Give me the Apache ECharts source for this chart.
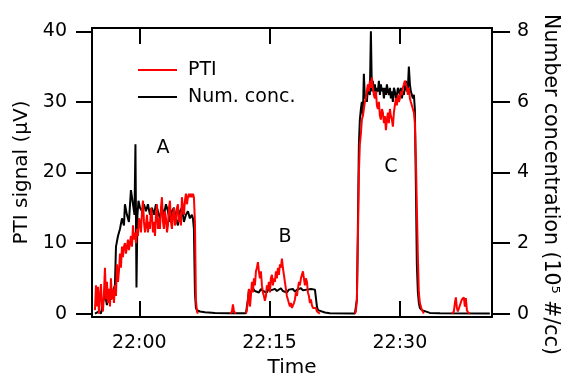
<!DOCTYPE html>
<html><head><meta charset="utf-8">
<script src="https://cdn.jsdelivr.net/npm/echarts@6/dist/echarts.min.js"></script>
<style>html,body{margin:0;padding:0;background:#fff}#c{width:569px;height:374px}</style>
</head><body><div id="c"></div>
<script>
// Time axis: minutes after 22:00
const xTickValues = [0, 15, 30];
const xTickLabels = ['22:00', '22:15', '22:30'];
const ptiTickValues = [0, 10, 20, 30, 40];
const ncTickValues = [0, 2, 4, 6, 8];

// PTI signal (µV); null = no data drawn
const ptiTime = [
-5.10,-4.98,-4.87,-4.75,-4.64,-4.52,-4.41,-4.29,-4.18,-4.06,-3.95,-3.83,-3.72,-3.60,-3.49,-3.37,-3.26,-3.14,-3.03,-2.91,
-2.80,-2.68,-2.57,-2.45,-2.34,-2.22,-2.11,-1.99,-1.88,-1.76,-1.65,-1.53,-1.42,-1.30,-1.19,-1.07,-0.96,-0.84,-0.72,-0.61,
-0.49,-0.38,-0.26,-0.15,-0.03,0.08,0.20,0.31,0.43,0.54,0.66,0.77,0.89,1.00,1.12,1.23,1.35,1.46,1.58,1.69,
1.81,1.92,2.04,2.15,2.27,2.38,2.50,2.61,2.73,2.84,2.96,3.07,3.19,3.30,3.42,3.53,3.65,3.76,3.88,3.99,
4.11,4.22,4.34,4.45,4.57,4.68,4.80,4.91,5.03,5.14,5.26,5.37,5.49,5.60,5.72,5.83,5.95,6.06,6.18,6.29,
6.41,6.52,6.64,6.75,
7.00,
10.44,10.67,10.78,10.90,11.13,
11.50,
12.28,12.39,12.51,12.62,12.74,12.85,12.97,13.08,13.20,13.31,13.43,13.54,13.66,13.77,13.89,14.00,14.12,14.23,14.35,14.46,
14.58,14.69,14.81,14.92,15.04,15.15,15.27,15.38,15.50,15.61,15.73,15.84,15.96,16.07,16.19,16.30,16.42,16.53,16.65,16.76,
16.88,16.99,17.11,17.22,17.34,17.45,17.57,17.68,17.80,17.92,18.03,18.15,18.26,18.38,18.49,18.61,18.72,18.84,18.95,19.07,
19.18,19.30,19.41,19.53,19.64,19.76,19.87,19.99,20.10,20.22,20.33,20.45,20.56,20.79,
21.50,
24.82,24.93,25.05,25.16,25.28,25.39,25.51,25.62,25.74,25.85,25.97,26.08,26.20,26.31,26.43,26.54,26.66,26.77,26.89,27.00,
27.12,27.24,27.35,27.47,27.58,27.70,27.81,27.93,28.04,28.16,28.27,28.39,28.50,28.62,28.73,28.85,28.96,29.08,29.19,29.31,
29.42,29.54,29.65,29.77,29.88,30.00,30.11,30.23,30.34,30.46,30.57,30.69,30.80,30.92,31.03,31.15,31.26,31.38,31.49,31.61,
31.72,31.84,31.95,32.07,32.18,32.30,32.53,32.76,
34.00,
35.98,36.21,36.33,36.44,36.56,36.67,36.90,37.13,37.36,37.48,37.59,37.71,37.82,38.05
];
const ptiValue = [
0.5,4,1,3.8,0,2.5,4.2,1,0.3,3,6.5,2,4.5,1.5,3.5,1,5,2,3.5,1.5,
4,2.5,7,4.5,6,8.5,6.5,9.5,8,9.5,10,8.5,9.5,10.5,9,10,11,9.5,12.5,10.5,
11.5,10,12,11,13.5,13,11.5,14.5,16,13,11.5,12.5,14,11.5,13,12,15,14,11.5,13,
11,14,15.5,12,13.5,12,15,16.5,13,12,14.5,13.5,11.5,12.5,15,16,13,12,14,15,
12.5,13,15,15.5,13,14,12.5,16.5,15,14,16,17,15.5,16.5,17,16.5,17,16.5,17,16.5,
13,2,0.3,0,
null,
0,0.3,1.3,0.3,0,
null,
0,0.5,2,3.5,1,2.5,4.5,3,5,4,6,6.5,7.3,6,5,6,4,3,2.5,1.8,
2.5,4,3.5,4.5,3,5,5.5,4,5,4.5,6,5,6.5,5.5,7,6.5,7.8,6.5,5.5,4.5,
3.5,2.5,2,1.5,1,1.5,0.8,0.7,1.5,2,3,2.5,3.5,4.5,4,5,5.5,6,5,4,
5,4.5,3,2.5,1.5,2,1.2,0.8,1,0.6,0.8,0.3,0.2,0,
null,
0,0.3,2,10,20,24,25.5,27.5,28,29,30,30.5,31.5,32.5,31.5,33,32,33.5,32,31,
30.5,31.5,29.5,29,30,28,27.5,29,28.5,27,28,26,27.5,28.5,27,29,28,27.5,26.5,28.5,
29.5,30.5,29.5,31,30,30.5,31.5,31,32,32.5,33,32.5,32,31,32,30.5,30,29.5,29,28.5,
27,22,15,8,3,1.5,0.5,0,
null,
0,0.3,1.5,2.3,0.8,0.3,0.5,2,2.3,1,2.2,0.5,0.2,0
];

// Number concentration (10^5 #/cc)
const ncTime = [
-5.10,-4.87,-4.64,-4.41,-4.18,-3.95,-3.72,-3.49,-3.26,-3.03,-2.80,-2.68,-2.45,-2.22,-1.99,-1.76,-1.65,-1.42,-1.19,-0.96,
-0.72,-0.55,-0.44,-0.32,-0.21,-0.09,0.08,0.31,0.54,0.77,1.00,1.23,1.46,1.69,1.92,2.15,2.38,2.61,2.84,3.07,
3.30,3.53,3.76,3.99,4.22,4.45,4.68,4.91,5.14,5.37,5.60,5.83,6.06,6.18,6.29,6.41,6.52,6.64,6.98,7.56,
8.71,10.44,12.28,
12.39,12.51,12.62,12.85,13.08,13.31,13.54,13.77,14.00,14.23,14.46,14.69,14.92,15.15,15.38,15.61,15.84,16.07,16.30,16.53,
16.76,16.99,17.22,17.45,17.68,17.92,18.15,18.38,18.61,18.84,19.07,19.30,19.53,19.76,19.99,20.22,20.33,20.45,20.56,20.79,
21.37,21.94,24.82,
24.93,25.05,25.16,25.28,25.39,25.51,25.62,25.74,25.85,25.97,26.08,26.20,26.31,26.43,26.54,26.66,26.77,26.89,27.00,27.12,
27.24,27.35,27.47,27.58,27.70,27.81,27.93,28.04,28.16,28.27,28.39,28.50,28.62,28.73,28.85,28.96,29.08,29.19,29.31,29.42,
29.54,29.65,29.77,29.88,30.00,30.11,30.23,30.34,30.46,30.57,30.69,30.80,30.92,31.03,31.15,31.26,31.38,31.49,31.61,31.72,
31.84,31.95,32.07,32.18,32.30,32.53,32.76,33.45,34.61,40.35
];
const ncValue = [
0,0,0.06,0,0.3,0.56,0.24,0.6,0.4,0.64,0.8,1.9,2.2,2.4,2.7,2.5,3.1,2.8,2.6,3.5,
3.1,2.8,4.8,0.74,2.8,3.2,3.0,2.9,3.1,2.9,3.1,2.8,3.0,2.8,3.1,2.9,2.7,3.0,2.8,3.1,
2.9,2.6,2.9,3.0,2.7,2.5,2.9,3.0,2.6,2.8,2.9,2.7,2.8,2.7,2.4,0.6,0.16,0.1,0.06,0.04,
0.02,0.01,0.01,
0.06,0.4,0.66,0.6,0.72,0.64,0.68,0.6,0.7,0.64,0.68,0.6,0.72,0.66,0.62,0.7,0.64,0.68,0.72,0.64,
0.66,0.6,0.68,0.64,0.7,0.62,0.68,0.64,0.72,0.66,0.62,0.68,0.64,0.7,0.66,0.68,0.64,0.2,0.1,0.06,
0.03,0.01,0,
0.04,0.4,2.4,4.8,5.5,5.8,6.0,5.6,6.8,6.1,6.2,6.0,6.4,6.3,6.2,8.0,6.3,6.6,6.3,6.5,
6.2,6.4,6.3,6.6,6.2,6.5,6.3,6.4,6.1,6.4,6.2,6.5,6.3,6.2,6.4,6.1,6.3,6.0,6.4,6.3,
6.1,6.2,6.4,6.3,6.2,6.4,6.1,6.3,6.2,6.4,6.6,6.3,6.4,7.0,6.5,6.3,6.2,6.1,6.2,5.8,
3.6,1.4,0.6,0.3,0.16,0.1,0.06,0.02,0.01,0
];

// Annotations (time in minutes, PTI-axis value)
const noteText = ['A', 'B', 'C'];
const noteTime = [2.73, 16.77, 28.96];
const noteValue = [23.4, 10.9, 20.8];

const F = 'DejaVu Sans';
const txt = {fontFamily: F, fontSize: 19, color: '#000'};
const axisLineStyle = {color: '#000', width: 2};

const chart = echarts.init(document.getElementById('c'), null, {renderer: 'canvas'});
chart.setOption({
  animation: false,
  backgroundColor: '#fff',
  grid: {left: 92, right: 77, top: 28, bottom: 57, containLabel: false, outerBoundsMode: 'none'},
  legend: {
    data: ['PTI', 'Num. conc.'], orient: 'vertical', left: 138, top: 60, padding: 0,
    icon: 'rect', itemWidth: 39, itemHeight: 2, itemGap: 7,
    textStyle: Object.assign({}, txt, {lineHeight: 20, padding: [0, 0, 0, 6]})
  },
  xAxis: [{
    type: 'value', min: -5.44, max: 40.6, position: 'bottom',
    axisLine: {onZero: false, lineStyle: axisLineStyle},
    axisTick: {show: true, inside: true, length: 16, customValues: xTickValues, lineStyle: {color: '#000', width: 2}},
    axisLabel: Object.assign({customValues: xTickValues, margin: 17,
      formatter: v => xTickLabels[xTickValues.indexOf(v)]}, txt),
    splitLine: {show: false},
    name: 'Time', nameLocation: 'middle', nameGap: 40, nameTextStyle: Object.assign({}, txt, {fontSize: 20})
  }, {
    type: 'value', min: -5.44, max: 40.6, position: 'top',
    axisLine: {onZero: false, lineStyle: axisLineStyle},
    axisTick: {show: true, inside: true, length: 16, customValues: xTickValues, lineStyle: {color: '#000', width: 2}},
    axisLabel: {show: false}, splitLine: {show: false}
  }],
  yAxis: [{
    type: 'value', min: -0.48, max: 40.48, position: 'left',
    axisLine: {show: true, onZero: false, lineStyle: axisLineStyle},
    axisTick: {show: true, inside: false, length: 16, customValues: ptiTickValues, lineStyle: {color: '#000', width: 2}},
    axisLabel: Object.assign({customValues: ptiTickValues, margin: 25}, txt),
    splitLine: {show: false},
    name: 'PTI signal (µV)', nameLocation: 'middle', nameGap: 56, nameRotate: 90,
    nameTextStyle: Object.assign({}, txt, {fontSize: 20})
  }, {
    type: 'value', min: -0.096, max: 8.096, position: 'right',
    axisLine: {show: true, onZero: false, lineStyle: axisLineStyle},
    axisTick: {show: true, inside: false, length: 18, customValues: ncTickValues, lineStyle: {color: '#000', width: 2}},
    axisLabel: Object.assign({customValues: ncTickValues, margin: 25}, txt),
    splitLine: {show: false},
    name: 'Number concentration (10⁵ #/cc)', nameLocation: 'middle', nameGap: 48, nameRotate: -90,
    nameTextStyle: Object.assign({}, txt, {fontSize: 20.5, padding: [0, 0, 0, 24]})
  }],
  series: [{
    name: 'Num. conc.', type: 'line', xAxisIndex: 0, yAxisIndex: 1,
    data: ncTime.map((t, i) => [t, ncValue[i]]),
    symbol: 'none', showSymbol: false,
    lineStyle: {color: '#000', width: 2}, itemStyle: {color: '#000'}
  }, {
    name: 'PTI', type: 'line', xAxisIndex: 0, yAxisIndex: 0,
    data: ptiTime.map((t, i) => [t, ptiValue[i]]),
    symbol: 'none', showSymbol: false, connectNulls: false,
    lineStyle: {color: '#ff0000', width: 2}, itemStyle: {color: '#ff0000'}
  }, {
    name: 'notes', type: 'scatter', xAxisIndex: 0, yAxisIndex: 0, silent: true,
    data: noteTime.map((t, i) => [t, noteValue[i], noteText[i]]),
    symbolSize: 0, itemStyle: {color: '#000', opacity: 1},
    label: {show: true, position: 'inside', formatter: p => p.data[2], fontFamily: F, fontSize: 19, color: '#000', opacity: 1}
  }]
});
</script>
</body></html>
